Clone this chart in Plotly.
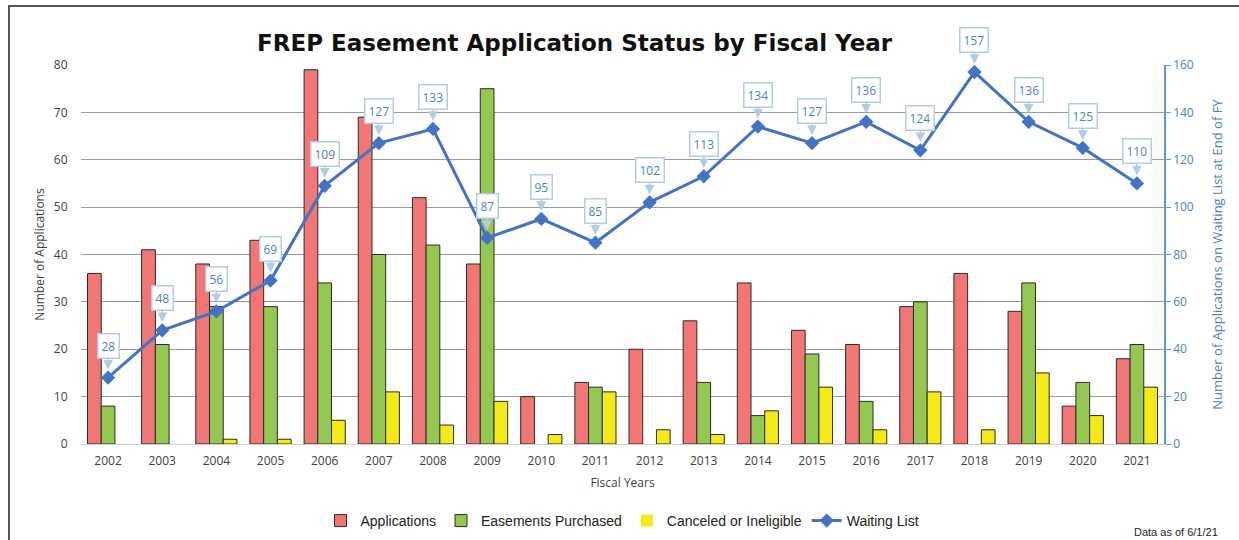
import plotly.graph_objects as go

years = [str(y) for y in range(2002, 2022)]
applications = [36, 41, 38, 43, 79, 69, 52, 38, 10, 13, 20, 26, 34, 24, 21, 29, 36, 28, 8, 18]
easements = [8, 21, 29, 29, 34, 40, 42, 75, 0, 12, 0, 13, 6, 19, 9, 30, 0, 34, 13, 21]
canceled = [0, 0, 1, 1, 5, 11, 4, 9, 2, 11, 3, 2, 7, 12, 3, 11, 3, 15, 6, 12]
waiting = [28, 48, 56, 69, 109, 127, 133, 87, 95, 85, 102, 113, 134, 127, 136, 124, 157, 136, 125, 110]

W, H = 1239, 540
L, R, T, B = 81, 75, 65, 96
pw, ph = W - L - R, H - T - B

def px(x):
    return (x - L) / pw

def py(y):
    return (H - B - y) / ph

def outline(vals):
    return dict(color="#2b2b2b", width=[1 if v else 0 for v in vals])

fig = go.Figure()
fig.add_trace(go.Bar(x=years, y=applications, name="Applications",
                     marker=dict(color="#f07775", line=outline(applications))))
fig.add_trace(go.Bar(x=years, y=easements, name="Easements Purchased",
                     marker=dict(color="#95c852", line=outline(easements))))
fig.add_trace(go.Bar(x=years, y=canceled, name="Canceled or Ineligible",
                     marker=dict(color="#f4eb16", line=outline(canceled))))
fig.add_trace(go.Scatter(x=years, y=waiting, name="Waiting List", yaxis="y2",
                         mode="lines+markers",
                         line=dict(color="#4472c4", width=3),
                         marker=dict(symbol="diamond", size=11, color="#4472c4")))

annotations = []
for i, v in enumerate(waiting):
    annotations.append(dict(x=i, y=v, xref="x", yref="y2", text=str(v),
                            showarrow=True, arrowhead=2, arrowsize=1.3, arrowwidth=1.5,
                            arrowcolor="#b4cbe4", ax=0, ay=-32, standoff=8,
                            bgcolor="white", bordercolor="#b4cbe4", borderwidth=1.5,
                            borderpad=3,
                            font=dict(family="Open Sans, DejaVu Sans", size=12, color="#4f81bd")))

annotations.append(dict(x=px(575), y=py(43), xref="paper", yref="paper",
                        text="<b>FREP Easement Application Status by Fiscal Year</b>",
                        showarrow=False, xanchor="center", yanchor="middle",
                        font=dict(family="DejaVu Sans", size=23, color="#111111")))
annotations.append(dict(x=px(1220), y=py(532), xref="paper", yref="paper",
                        text="Data as of 6/1/21", showarrow=False,
                        xanchor="right", yanchor="middle",
                        font=dict(family="Liberation Sans Narrow, Liberation Sans", size=11, color="#222222")))

shapes = [dict(type="rect", xref="paper", yref="paper",
               x0=px(9), x1=px(1250), y0=py(552), y1=py(6),
               line=dict(color="#555555", width=2), fillcolor="rgba(0,0,0,0)", layer="below")]

fig.update_layout(
    width=W, height=H,
    margin=dict(l=L, r=R, t=T, b=B, autoexpand=False),
    paper_bgcolor="white", plot_bgcolor="white",
    barmode="group", bargap=0.24, bargroupgap=0,
    font=dict(family="Open Sans, DejaVu Sans", size=12, color="#404040"),
    showlegend=True,
    legend=dict(orientation="h", x=0.5, xanchor="center", y=py(521), yanchor="middle",
                font=dict(family="Liberation Sans Narrow, Liberation Sans", size=14, color="#222222"),
                itemwidth=30, bgcolor="rgba(0,0,0,0)"),
    xaxis=dict(type="category", range=[-0.5, 19.5], showgrid=False, showline=True, linecolor="#d0d0d0",
               ticks="outside", ticklen=6, tickcolor="rgba(0,0,0,0)", automargin=False,
               tickfont=dict(size=12, color="#404040"),
               title=dict(text="Fiscal Years", font=dict(size=12, color="#404040"), standoff=10)),
    yaxis=dict(range=[0, 80], dtick=10, showgrid=True, gridcolor="#9a9a9a", gridwidth=1,
               zeroline=False, showline=False, ticks="outside", ticklen=10, tickcolor="rgba(0,0,0,0)",
               automargin=False,
               tickfont=dict(size=12, color="#404040"),
               title=dict(text="Number of Applications", font=dict(size=12, color="#404040"), standoff=6)),
    yaxis2=dict(range=[0, 160], dtick=20, overlaying="y", side="right", showgrid=False,
                zeroline=False, showline=True, linecolor="#5b9bd5", linewidth=1.5,
                ticks="outside", ticklen=5, tickcolor="#5b9bd5", automargin=False,
                tickfont=dict(size=12, color="#4f81bd"),
                title=dict(text="Number of Applications on Waiting List at End of FY",
                           font=dict(size=13, color="#4f81bd"), standoff=20)),
    annotations=annotations,
    shapes=shapes,
)

fig.write_html("out.html")
